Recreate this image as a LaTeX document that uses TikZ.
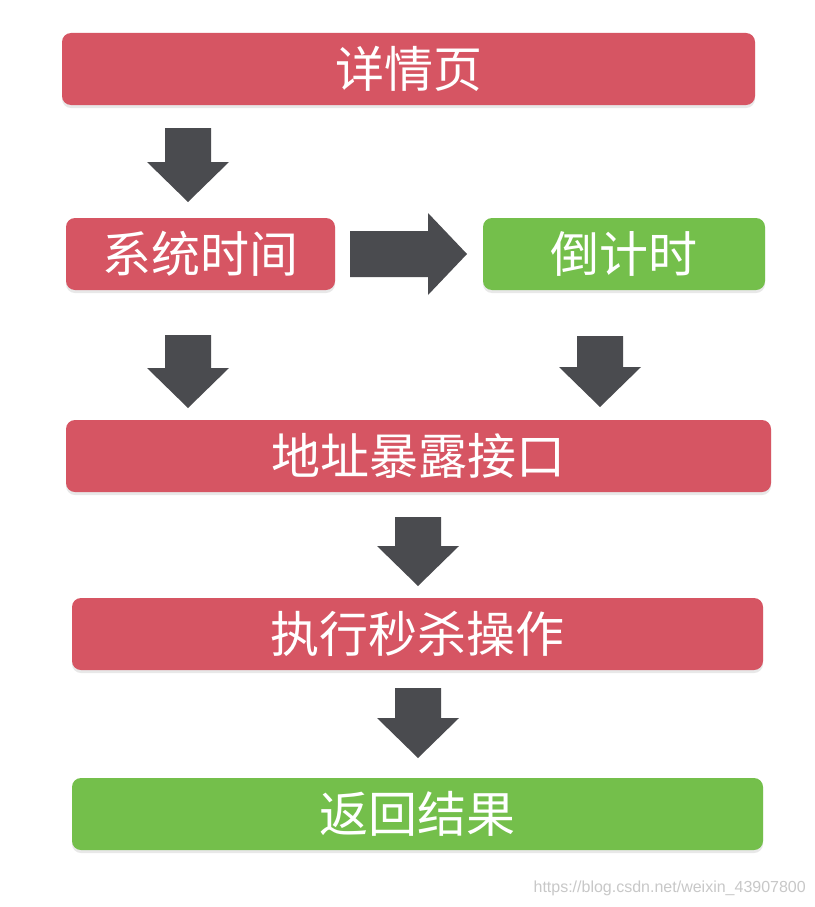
\documentclass[tikz,border=0pt]{standalone}
\usepackage{fontspec}
\setmainfont{Liberation Sans}
\newfontfamily\cjk{Noto Sans CJK SC}
\usetikzlibrary{calc,shadows}
\definecolor{boxred}{RGB}{214,85,99}
\definecolor{boxgreen}{RGB}{116,191,75}
\definecolor{arrowgray}{RGB}{74,75,79}
\definecolor{wmgray}{RGB}{200,200,200}
\tikzset{
  box/.style={rounded corners=9pt, inner sep=0pt, minimum height=72pt, text=white,
    font=\cjk\fontsize{49}{49}\selectfont,
    drop shadow={opacity=0.18, shadow xshift=0pt, shadow yshift=-3pt}},
  redbox/.style={box, fill=boxred},
  greenbox/.style={box, fill=boxgreen},
  blockarrow/.style={fill=arrowgray},
}
\newcommand\downblock[2]{\fill[blockarrow] ($(#1)+(-23,0)$) -- ($(#1)+(23,0)$) -- ($(#2)+(23,-40)$) -- ($(#2)+(41,-40)$) -- (#2) -- ($(#2)+(-41,-40)$) -- ($(#2)+(-23,-40)$) -- cycle;}
\newcommand\rightblock[2]{\fill[blockarrow] ($(#1)+(0,-23)$) -- ($(#2)+(-39,-23)$) -- ($(#2)+(-39,-41)$) -- (#2) -- ($(#2)+(-39,41)$) -- ($(#2)+(-39,23)$) -- ($(#1)+(0,23)$) -- cycle;}
\begin{document}
\begin{tikzpicture}[x=1pt,y=-1pt]
\useasboundingbox[fill=white] (0,0) rectangle (814,907);
\node[redbox, minimum width=693pt] (detail) at (408.5,69) {详情页};
\node[redbox, minimum width=269pt] (systime) at (200.5,254) {系统时间};
\node[greenbox, minimum width=282pt] (countdown) at (624,254) {倒计时};
\node[redbox, minimum width=705pt] (expose) at (418.5,456) {地址暴露接口};
\node[redbox, minimum width=691pt] (exec) at (417.5,634) {执行秒杀操作};
\node[greenbox, minimum width=691pt] (result) at (417.5,814) {返回结果};
% arrows
\coordinate (a1s) at (188,128); \coordinate (a1e) at (188,202);
\coordinate (a2s) at (350,254); \coordinate (a2e) at (467,254);
\coordinate (a3s) at (188,335); \coordinate (a3e) at (188,408);
\coordinate (a4s) at (600,336); \coordinate (a4e) at (600,407);
\coordinate (a5s) at (418,517); \coordinate (a5e) at (418,586);
\coordinate (a6s) at (418,688); \coordinate (a6e) at (418,758);
\downblock{a1s}{a1e}
\rightblock{a2s}{a2e}
\downblock{a3s}{a3e}
\downblock{a4s}{a4e}
\downblock{a5s}{a5e}
\downblock{a6s}{a6e}
\node[anchor=east, inner sep=0pt, text=wmgray, font=\fontsize{16}{16}\selectfont] (wm) at (806,888) {https://blog.csdn.net/weixin\_43907800};
\end{tikzpicture}
\end{document}
